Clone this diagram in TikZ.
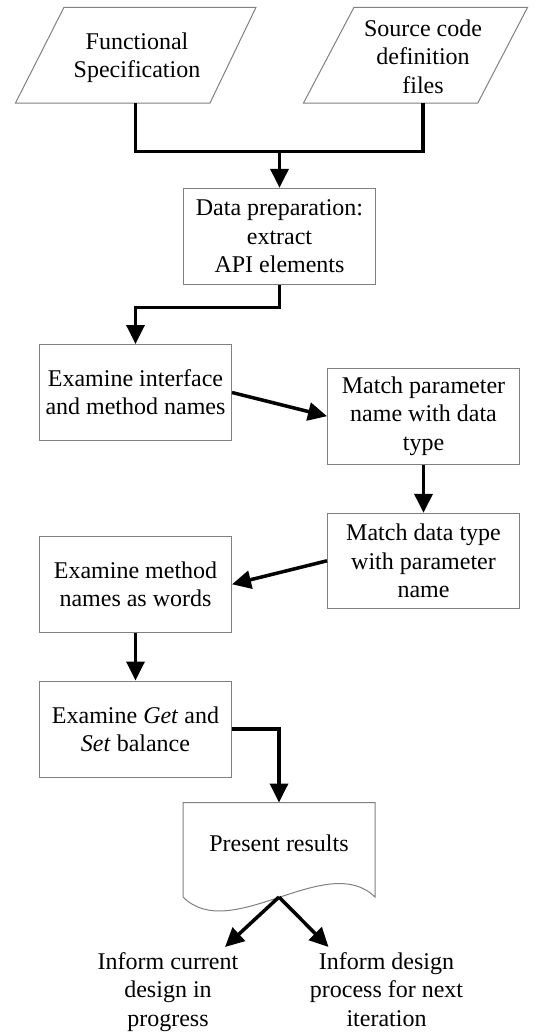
\documentclass[tikz,border=0pt]{standalone}
\usepackage{fontspec}
\setmainfont{Liberation Serif}
\usetikzlibrary{arrows.meta}
\definecolor{bordergray}{RGB}{128,128,128}
\begin{document}
\begin{tikzpicture}[x=1pt,y=-1pt,
  txt/.style={align=center, inner sep=0pt, font=\fontsize{24}{28.3}\selectfont},
  box/.style={txt, draw=bordergray, line width=1pt, minimum width=192pt, minimum height=96pt},
  shapeline/.style={draw=bordergray, line width=1pt, line join=miter},
  conn/.style={line width=3.5pt, line join=miter, -{Triangle[length=19pt,width=18pt]}},
  plainconn/.style={line width=3.5pt, line join=miter}]
\useasboundingbox (0,0) rectangle (539,1033);

% input parallelograms
\draw[shapeline] (64,7.3) -- (256,7.3) -- (210,103) -- (15.5,103) -- cycle;
\draw[shapeline] (354,7.3) -- (527.6,7.3) -- (477.8,103) -- (303.5,103) -- cycle;
\node[txt] (fs) at (137,58) {Functional\\Specification};
\node[txt] (sc) at (423,56.5) {Source code\\definition\\files};
\coordinate (fsb) at (135.5,103);
\coordinate (scb) at (423,103);
\coordinate (j) at (279.5,151.5);

% process boxes
\node[box] (prep) at (279.5,236.3) {Data preparation:\\extract\\API elements};
\node[box] (ex1) at (135.5,392.5) {Examine interface\\and method names};
\node[box] (mp) at (423.5,416.2) {Match parameter\\name with data\\type};
\node[box, minimum height=95pt] (md) at (423.5,560.8) {Match data type\\with parameter\\name};
\node[box] (em) at (135.5,584.3) {Examine method\\names as words};
\node[box] (eg) at (135.5,729) {Examine \textit{Get} and\\\textit{Set} balance};

% document shape
\node[minimum width=192pt, minimum height=94.3pt, inner sep=0pt] (doc) at (279,849.85) {};
\draw[shapeline] (183,802.7) -- (375,802.7) -- (375,897)
  .. controls (327,850) and (231,945) .. (183,897) -- cycle;
\node[txt] (pres) at (279,843) {Present results};
\coordinate (docb) at (279,897);

% outputs
\node[txt] (out1) at (168,992) {Inform current\\design in\\progress};
\node[txt] (out2) at (386.5,989.5) {Inform design\\process for next\\iteration};
\coordinate (t1) at (225,947);
\coordinate (t2) at (328.5,947);

% connectors
\draw[plainconn] (fsb) |- (j);
\draw[plainconn] (scb) |- (j);
\draw[conn] (j) -- (prep.north);
\draw[conn] (prep.south) -- ++(0,22.5) -| (ex1.north);
\draw[conn] (ex1.east) -- (mp.west);
\draw[conn] (mp.south) -- (md.north);
\draw[conn] (md.west) -- (em.east);
\draw[conn] (em.south) -- (eg.north);
\draw[conn] (eg.east) -| (doc.north);
\draw[conn] (docb) -- (t1);
\draw[conn] (docb) -- (t2);
\end{tikzpicture}
\end{document}
